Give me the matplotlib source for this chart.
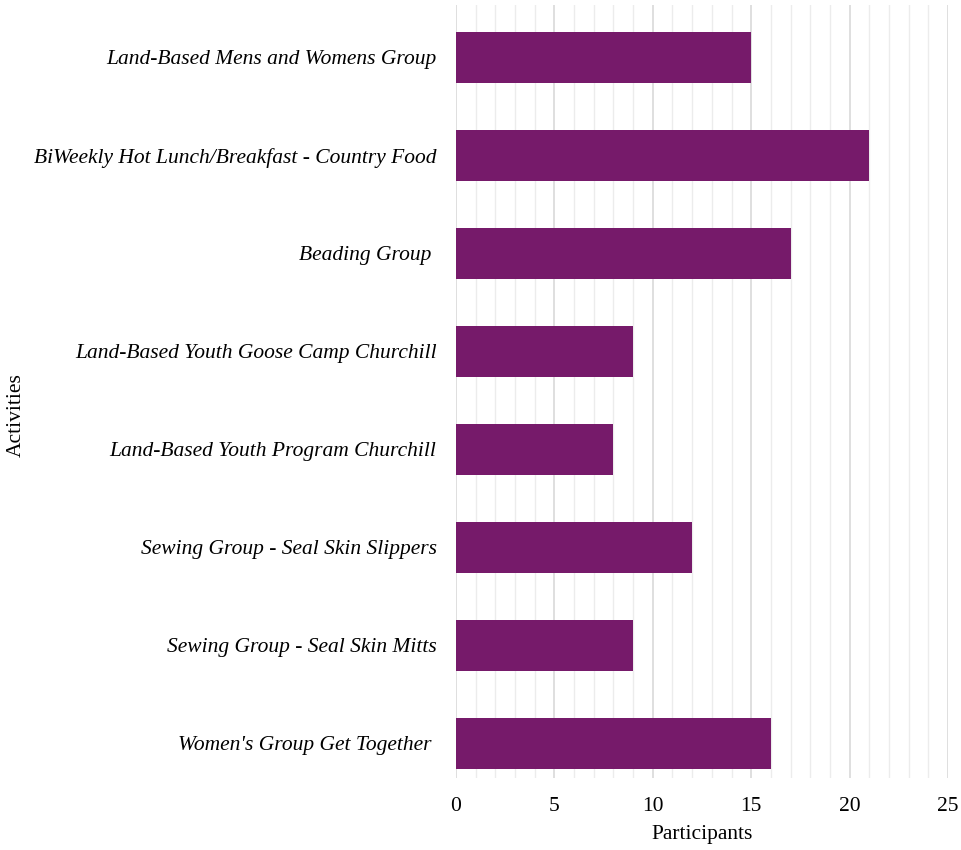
import matplotlib
matplotlib.use('Agg')
import matplotlib.pyplot as plt
from matplotlib.ticker import MultipleLocator

# datos, de abajo hacia arriba
actividades = ["Women's Group Get Together ",
               "Sewing Group - Seal Skin Mitts",
               "Sewing Group - Seal Skin Slippers",
               "Land-Based Youth Program Churchill",
               "Land-Based Youth Goose Camp Churchill",
               "Beading Group ",
               "BiWeekly Hot Lunch/Breakfast - Country Food",
               "Land-Based Mens and Womens Group"]
participantes = [16, 9, 12, 8, 9, 17, 21, 15]

plt.rcParams['font.family'] = ['Liberation Serif', 'DejaVu Serif']

fig = plt.figure(figsize=(9.61, 8.5), dpi=100)
ax = fig.add_axes([0.4745, 0.0847, 0.512, 0.909])

y = list(range(len(actividades)))
ax.barh(y, participantes, height=0.52, color='#761a6a', zorder=3)

ax.set_xlim(0, 25)
ax.set_ylim(-0.357, 7.53)
ax.xaxis.set_major_locator(MultipleLocator(5))
ax.xaxis.set_minor_locator(MultipleLocator(1))
ax.grid(axis='x', which='major', color='#d9d9d9', linewidth=1.2, zorder=0)
ax.grid(axis='x', which='minor', color='#ececec', linewidth=1.0, zorder=0)
ax.set_axisbelow(True)

ax.set_yticks(y)
ax.set_yticklabels(actividades, fontstyle='italic', fontsize=15.5)
ax.tick_params(axis='both', which='both', length=0)
ax.tick_params(axis='x', labelsize=15.5, pad=14)
ax.tick_params(axis='y', pad=14)

for s in ax.spines.values():
    s.set_visible(False)

ax.set_xlabel('Participants', fontsize=15.5, labelpad=6)
fig.text(0.017, 0.512, 'Activities', rotation=90, fontsize=15.5, va='center', ha='center')

fig.savefig('out.png', dpi=100)
